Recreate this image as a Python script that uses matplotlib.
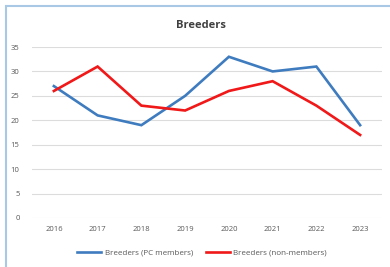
import matplotlib
matplotlib.use("Agg")
import matplotlib.pyplot as plt
from matplotlib.patches import Rectangle

years = ["2016", "2017", "2018", "2019", "2020", "2021", "2022", "2023"]
pc_members = [27, 21, 19, 25, 33, 30, 31, 19]
non_members = [26, 31, 23, 22, 26, 28, 23, 17]
yticks = [0, 5, 10, 15, 20, 25, 30, 35]

plt.rcParams['font.family'] = ['Open Sans', 'DejaVu Sans']

fig = plt.figure(figsize=(3.9, 2.67), dpi=100)
fig.patch.set_facecolor('white')
W, H = 390, 267
ax = fig.add_axes([32 / W, 1 - 218 / H, 350 / W, 171 / H])

x = list(range(len(years)))
ax.plot(x, pc_members, color='#3f7cbf', lw=1.9, label='Breeders (PC members)', solid_joinstyle='miter')
ax.plot(x, non_members, color='#f01818', lw=1.9, label='Breeders (non-members)', solid_joinstyle='miter')

ax.set_xlim(-0.5, len(years) - 0.5)
ax.set_ylim(0, 35)
ax.set_yticks(yticks)
ax.set_xticks(x)
ax.set_xticklabels(years)
ax.grid(axis='y', color='#dcdcdc', lw=0.8)
ax.set_axisbelow(True)
for s in ax.spines.values():
    s.set_visible(False)
ax.tick_params(length=0, labelsize=5.5, colors='#595959', pad=6)
ax.tick_params(axis='y', pad=9)

fig.text(201 / W, 1 - 25 / H, 'Breeders', ha='center', va='center', fontsize=8,
         fontweight='bold', color='#404040')

leg = fig.legend(loc='center', bbox_to_anchor=(202 / W, 1 - 253 / H), ncol=2, frameon=False,
                 fontsize=5.8, handlelength=3.0, columnspacing=1.6, handletextpad=0.4)
for t in leg.get_texts():
    t.set_color('#595959')

fig.patches.append(Rectangle((6 / W, -0.1), 1.2, 1.1 - 6 / H, transform=fig.transFigure,
                             fill=False, edgecolor='#a9c8e6', lw=1.5, figure=fig))

fig.savefig('out.png', dpi=100)
